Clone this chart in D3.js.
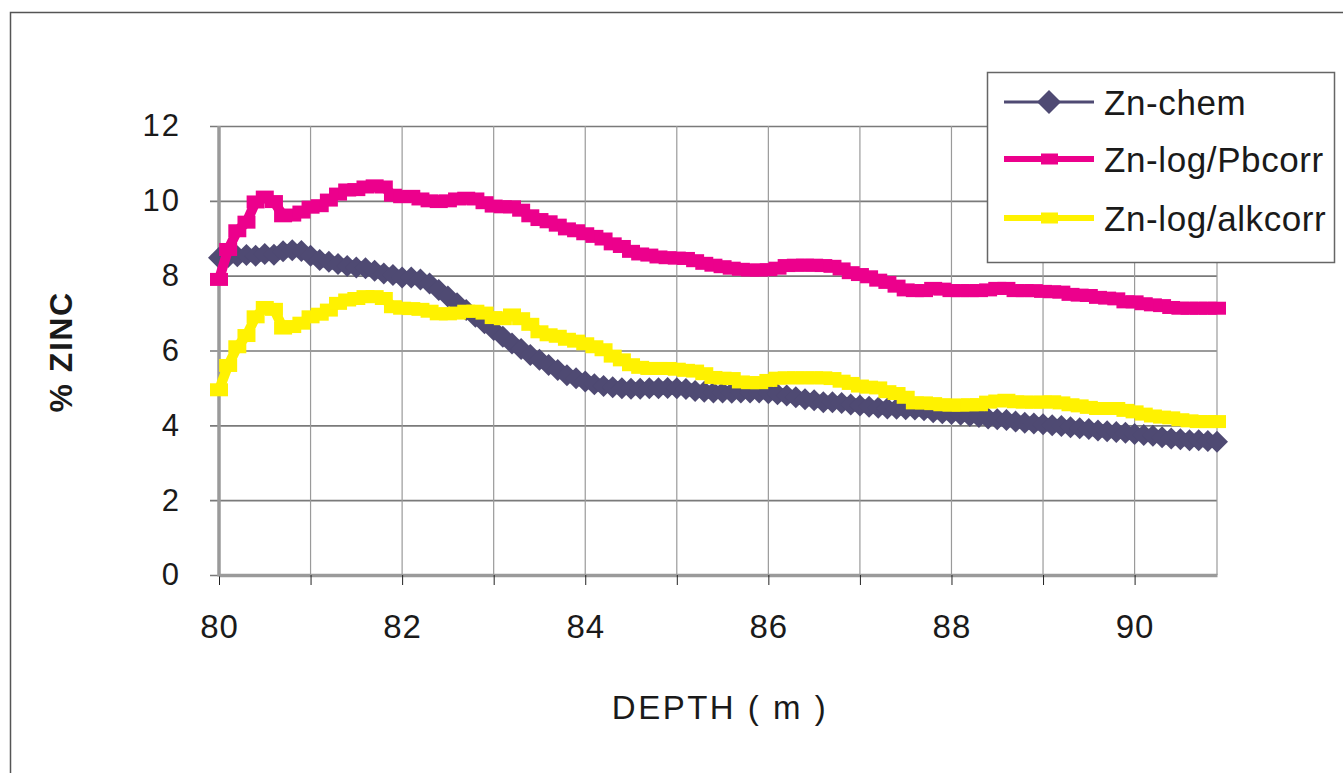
<!DOCTYPE html>
<html>
<head>
<meta charset="utf-8">
<script src="https://cdn.jsdelivr.net/npm/d3@7"></script>
<style>
  html, body { margin: 0; padding: 0; background: #fff; }
  svg { display: block; font-family: "Liberation Sans", Arial, sans-serif; }
</style>
</head>
<body>
<div id="chart"></div>
<script>
// depth (m) of each sample
const depths = [
  80.0, 80.1, 80.2, 80.3, 80.4, 80.5, 80.6, 80.7, 80.8, 80.9,
  81.0, 81.1, 81.2, 81.3, 81.4, 81.5, 81.6, 81.7, 81.8, 81.9,
  82.0, 82.1, 82.2, 82.3, 82.4, 82.5, 82.6, 82.7, 82.8, 82.9,
  83.0, 83.1, 83.2, 83.3, 83.4, 83.5, 83.6, 83.7, 83.8, 83.9,
  84.0, 84.1, 84.2, 84.3, 84.4, 84.5, 84.6, 84.7, 84.8, 84.9,
  85.0, 85.1, 85.2, 85.3, 85.4, 85.5, 85.6, 85.7, 85.8, 85.9,
  86.0, 86.1, 86.2, 86.3, 86.4, 86.5, 86.6, 86.7, 86.8, 86.9,
  87.0, 87.1, 87.2, 87.3, 87.4, 87.5, 87.6, 87.7, 87.8, 87.9,
  88.0, 88.1, 88.2, 88.3, 88.4, 88.5, 88.6, 88.7, 88.8, 88.9,
  89.0, 89.1, 89.2, 89.3, 89.4, 89.5, 89.6, 89.7, 89.8, 89.9,
  90.0, 90.1, 90.2, 90.3, 90.4, 90.5, 90.6, 90.7, 90.8, 90.9
];

const znChem = [
  8.48, 8.50, 8.52, 8.55, 8.53, 8.58, 8.56, 8.65, 8.68, 8.66,
  8.53, 8.42, 8.37, 8.31, 8.26, 8.22, 8.20, 8.13, 8.06, 8.02,
  7.95, 7.95, 7.90, 7.79, 7.62, 7.44, 7.26, 7.08, 6.90, 6.73,
  6.55, 6.37, 6.19, 6.04, 5.88, 5.75, 5.61, 5.48, 5.34, 5.26,
  5.17, 5.10, 5.05, 5.02, 4.99, 4.98, 4.98, 4.99, 4.99, 5.00,
  4.99, 4.97, 4.92, 4.90, 4.88, 4.88, 4.87, 4.88, 4.88, 4.88,
  4.86, 4.83, 4.80, 4.75, 4.70, 4.67, 4.62, 4.62, 4.60, 4.56,
  4.53, 4.50, 4.47, 4.45, 4.44, 4.43, 4.42, 4.40, 4.35, 4.32,
  4.30, 4.28, 4.25, 4.22, 4.18, 4.16, 4.14, 4.10, 4.07, 4.05,
  4.03, 4.00, 3.98, 3.95, 3.92, 3.90, 3.86, 3.84, 3.82, 3.80,
  3.77, 3.74, 3.72, 3.68, 3.65, 3.63, 3.60, 3.60, 3.58, 3.56
];

const znLogPb = [
  7.90, 8.70, 9.20, 9.43, 9.97, 10.10, 9.98, 9.60, 9.62, 9.70,
  9.83, 9.87, 10.02, 10.18, 10.29, 10.30, 10.37, 10.40, 10.37, 10.15,
  10.11, 10.12, 10.05, 10.00, 9.98, 10.00, 10.05, 10.07, 10.05, 9.95,
  9.86, 9.84, 9.84, 9.75, 9.60, 9.50, 9.44, 9.35, 9.25, 9.20,
  9.12, 9.05, 8.98, 8.85, 8.78, 8.65, 8.58, 8.55, 8.50, 8.48,
  8.47, 8.46, 8.40, 8.33, 8.28, 8.24, 8.20, 8.17, 8.15, 8.15,
  8.16, 8.20, 8.27, 8.28, 8.28, 8.28, 8.27, 8.25, 8.18, 8.08,
  8.03, 7.97, 7.88, 7.82, 7.72, 7.62, 7.60, 7.60, 7.66, 7.64,
  7.60, 7.60, 7.60, 7.60, 7.62, 7.66, 7.66, 7.60, 7.60, 7.60,
  7.58, 7.57, 7.56, 7.50, 7.48, 7.47, 7.42, 7.40, 7.38, 7.30,
  7.30, 7.25, 7.22, 7.20, 7.15, 7.13, 7.13, 7.13, 7.13, 7.13
];

const znLogAlk = [
  4.95, 5.60, 6.10, 6.40, 6.90, 7.15, 7.10, 6.60, 6.64, 6.73,
  6.90, 6.97, 7.08, 7.26, 7.35, 7.39, 7.44, 7.44, 7.39, 7.17,
  7.13, 7.12, 7.10, 7.05, 6.98, 6.98, 7.00, 7.05, 7.05, 7.00,
  6.88, 6.85, 6.95, 6.85, 6.70, 6.50, 6.42, 6.38, 6.30, 6.25,
  6.18, 6.10, 6.02, 5.85, 5.75, 5.62, 5.55, 5.52, 5.52, 5.52,
  5.50, 5.47, 5.45, 5.38, 5.28, 5.26, 5.25, 5.16, 5.14, 5.14,
  5.20, 5.26, 5.27, 5.27, 5.27, 5.27, 5.27, 5.25, 5.18, 5.12,
  5.05, 5.02, 5.00, 4.90, 4.85, 4.75, 4.60, 4.60, 4.58, 4.55,
  4.54, 4.54, 4.55, 4.55, 4.62, 4.65, 4.67, 4.63, 4.62, 4.62,
  4.62, 4.63, 4.60, 4.55, 4.52, 4.48, 4.45, 4.45, 4.45, 4.40,
  4.36, 4.30, 4.25, 4.22, 4.20, 4.15, 4.12, 4.10, 4.10, 4.10
];

const seriesNames = ["Zn-chem", "Zn-log/Pbcorr", "Zn-log/alkcorr"];
const yTickValues = [0, 2, 4, 6, 8, 10, 12];
const xLabelValues = [80, 82, 84, 86, 88, 90];
const xGridValues = [80, 81, 82, 83, 84, 85, 86, 87, 88, 89, 90];

const W = 1343, H = 773;
const plotLeft = 219, plotRight = 1217, plotTop = 126, plotBottom = 575;

const svg = d3.select('#chart').append('svg')
  .attr('width', W)
  .attr('height', H);

// outer chart frame
svg.append('rect')
  .attr('x', 10.5).attr('y', 12.5)
  .attr('width', 1400).attr('height', 800)
  .attr('fill', '#fff')
  .attr('stroke', '#555')
  .attr('stroke-width', 1.5);

const x = d3.scaleLinear().domain([80, depths[depths.length - 1]]).range([plotLeft, plotRight]);
const y = d3.scaleLinear().domain([0, 12]).range([plotBottom, plotTop]);

// horizontal grid + y labels
const yAxis = svg.append('g')
  .attr('transform', `translate(${plotLeft},0)`)
  .call(d3.axisLeft(y).tickValues(yTickValues).tickSize(-(plotRight - plotLeft)).tickSizeOuter(0).tickPadding(38));
yAxis.select('.domain').remove();
yAxis.selectAll('.tick line')
  .attr('stroke', '#7a7a7a').attr('stroke-width', 1.6)
  .attr('x1', -9);
yAxis.selectAll('.tick text')
  .attr('font-size', 31).attr('letter-spacing', 2).attr('fill', '#1a1a1a');

// vertical grid
svg.append('g')
  .selectAll('line')
  .data(xGridValues.slice(1).concat([depths[depths.length - 1]]))
  .join('line')
  .attr('x1', d => x(d)).attr('x2', d => x(d))
  .attr('y1', plotTop).attr('y2', plotBottom)
  .attr('stroke', '#9a9a9a').attr('stroke-width', 1.2);

// x axis: ticks at every metre, labels on even ones
const xAxis = svg.append('g')
  .attr('transform', `translate(0,${plotBottom})`)
  .call(d3.axisBottom(x).tickValues(xGridValues).tickSize(10).tickSizeOuter(0).tickPadding(30)
    .tickFormat(d => xLabelValues.includes(d) ? d : ''));
xAxis.select('.domain')
  .attr('stroke', '#9a9a9a').attr('stroke-width', 3.5);
xAxis.selectAll('.tick line').attr('stroke', '#222').attr('stroke-width', 1);
xAxis.selectAll('.tick text').attr('font-size', 33).attr('letter-spacing', 1).attr('fill', '#1a1a1a');

// y axis line
svg.append('line')
  .attr('x1', plotLeft).attr('x2', plotLeft)
  .attr('y1', plotTop).attr('y2', plotBottom + 1.5)
  .attr('stroke', '#9a9a9a').attr('stroke-width', 3.5);

const line = d3.line().x((d, i) => x(depths[i])).y(d => y(d));
const diamond = 'M0,-11L11,0L0,11L-11,0Z';

// Zn-chem
const chemG = svg.append('g');
chemG.append('path').datum(znChem)
  .attr('d', line).attr('fill', 'none')
  .attr('stroke', '#4f4a73').attr('stroke-width', 13);
chemG.selectAll('path.m').data(znChem).join('path')
  .attr('class', 'm')
  .attr('transform', (d, i) => `translate(${x(depths[i])},${y(d)})`)
  .attr('d', diamond)
  .attr('fill', '#4f4a73');

// Zn-log/Pbcorr and Zn-log/alkcorr
[[znLogPb, '#ec008c'], [znLogAlk, '#fff200']].forEach(([vals, col]) => {
  const g = svg.append('g');
  g.append('path').datum(vals)
    .attr('d', line).attr('fill', 'none')
    .attr('stroke', col).attr('stroke-width', 10);
  g.selectAll('rect').data(vals).join('rect')
    .attr('x', (d, i) => x(depths[i]) - 9)
    .attr('y', d => y(d) - 6.5)
    .attr('width', 18).attr('height', 13)
    .attr('fill', col);
});

// axis titles
svg.append('text')
  .attr('x', 720).attr('y', 719)
  .attr('text-anchor', 'middle')
  .attr('font-size', 33).attr('letter-spacing', 2.5).attr('fill', '#1a1a1a')
  .text('DEPTH ( m )');

svg.append('text')
  .attr('transform', 'translate(72,352) rotate(-90)')
  .attr('text-anchor', 'middle')
  .attr('font-size', 32).attr('font-weight', 'bold').attr('letter-spacing', 1.5).attr('fill', '#1a1a1a')
  .text('% ZINC');

// legend
const legend = svg.append('g');
legend.append('rect')
  .attr('x', 987.5).attr('y', 72.5)
  .attr('width', 347).attr('height', 190)
  .attr('fill', '#fff').attr('stroke', '#666').attr('stroke-width', 1.5);

const legendY = [102, 159, 218];
const legendColors = ['#4f4a73', '#ec008c', '#fff200'];
seriesNames.forEach((name, i) => {
  const ly = legendY[i];
  legend.append('line')
    .attr('x1', 1004).attr('x2', 1094).attr('y1', ly).attr('y2', ly)
    .attr('stroke', legendColors[i]).attr('stroke-width', i === 0 ? 3 : 6);
  if (i === 0) {
    legend.append('path')
      .attr('transform', `translate(1049,${ly})`)
      .attr('d', 'M0,-12L12,0L0,12L-12,0Z')
      .attr('fill', legendColors[i]);
  } else {
    legend.append('rect')
      .attr('x', 1041).attr('y', ly - 5.5).attr('width', 17).attr('height', 11)
      .attr('fill', legendColors[i]);
  }
  legend.append('text')
    .attr('x', 1104).attr('y', ly + 13)
    .attr('font-size', 35).attr('letter-spacing', 0.6).attr('fill', '#1a1a1a')
    .text(name);
});
</script>
</body>
</html>
